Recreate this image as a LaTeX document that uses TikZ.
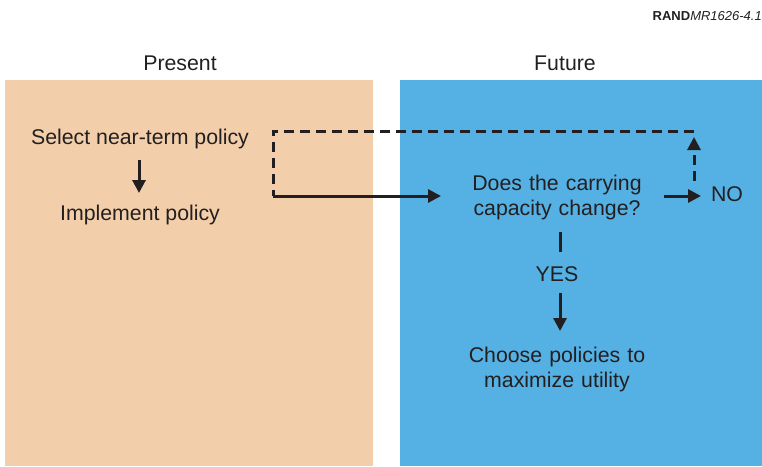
\documentclass[tikz,border=0pt]{standalone}
\usepackage{fontspec}
\setmainfont{Liberation Sans}
\usetikzlibrary{arrows.meta}
\definecolor{peach}{HTML}{F2CFAA}
\definecolor{skyb}{HTML}{55B1E4}
\definecolor{ink}{HTML}{231F20}
\begin{document}
\begin{tikzpicture}[x=1pt,y=-1pt,
  lbl/.style={font=\fontsize{21.3}{25}\selectfont, text=ink, align=center, inner sep=0pt},
  tip/.style={-{Triangle[length=13pt,width=13pt]}},
  conn/.style={draw=ink, line width=3pt, tip},
  dconn/.style={draw=ink, line width=3pt, dash pattern=on 10pt off 6pt}]
\useasboundingbox (0,0) rectangle (762,466);
\fill[peach] (5,80) rectangle (373,466);
\fill[skyb] (400,80) rectangle (762,466);
\node[anchor=east, inner sep=0pt, font=\fontsize{13}{15}\selectfont, text=ink] (rand) at (762,16) {\textbf{RAND}\textit{MR1626-4.1}};
\node[lbl] (present) at (180,63) {Present};
\node[lbl] (future) at (565,63) {Future};
\node[lbl] (select) at (140,139) {Select near-term policy};
\node[lbl] (impl) at (140,215) {Implement policy};
\node[lbl, text width=200pt] (does) at (557,197) {Does the carrying\\[0pt]capacity change?};
\node[lbl] (no) at (727,194) {NO};
\node[lbl] (yes) at (557,274) {YES};
\node[lbl, text width=220pt] (choose) at (557,369) {Choose policies to\\[0pt]maximize utility};
\coordinate (s1) at (273,196);
\coordinate (s2) at (441,196);
\coordinate (c1) at (273,131);
\coordinate (c2) at (694,131);
\coordinate (c3) at (694,181);
\coordinate (c4) at (694,137);
\coordinate (n1) at (664,196);
\coordinate (n2) at (701,196);
\coordinate (y1) at (560,232);
\coordinate (y2) at (560,252);
\coordinate (y3) at (560,293);
\coordinate (y4) at (560,331);
\draw[conn] (139,160) -- (139,193);
\draw[conn] (s1) -- (s2);
\draw[conn] (n1) -- (n2);
\draw[draw=ink, line width=3pt] (y1) -- (y2);
\draw[conn] (y3) -- (y4);
\draw[dconn] (c2) -- (c1) -- (s1);
\draw[dconn, tip] (c3) -- (c4);
\end{tikzpicture}
\end{document}
